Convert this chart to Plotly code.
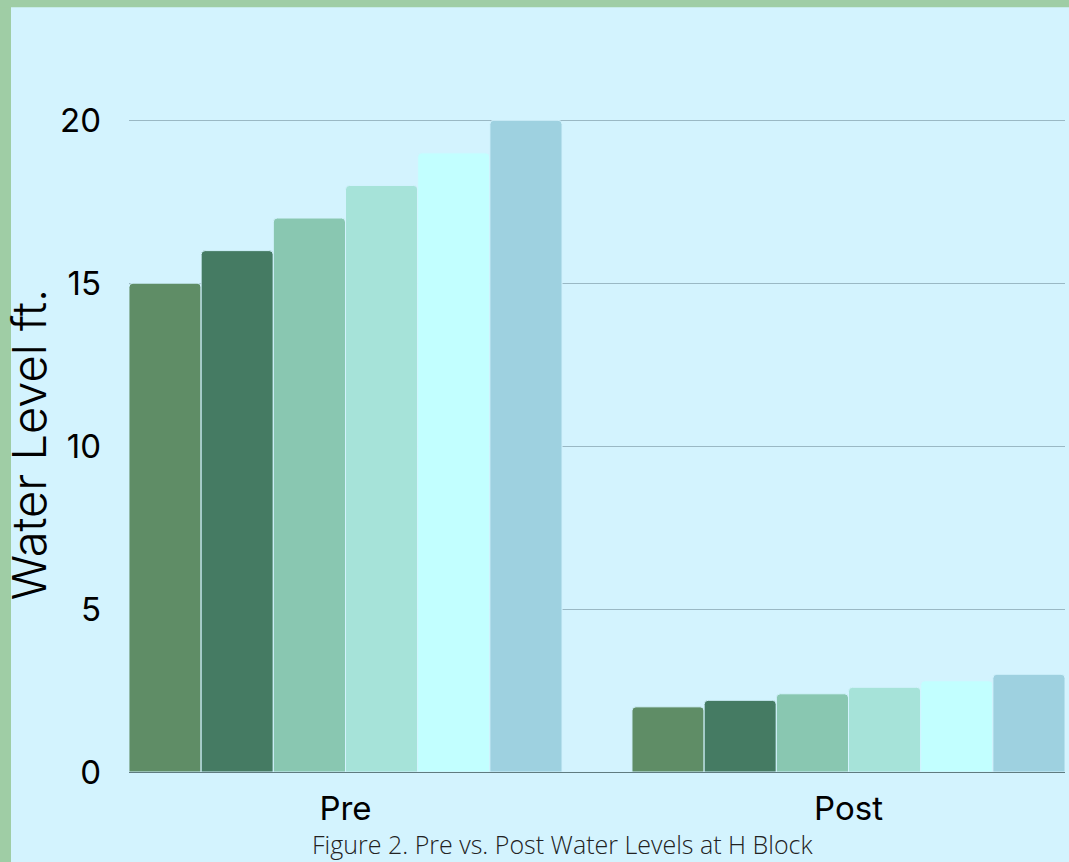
import plotly.graph_objects as go

categories = ["Pre", "Post"]
series_names = ["Site 1", "Site 2", "Site 3", "Site 4", "Site 5", "Site 6"]
series_values = [
    [15, 2.0],
    [16, 2.2],
    [17, 2.4],
    [18, 2.6],
    [19, 2.8],
    [20, 3.0],
]
colors = ["#5F8D66", "#457B63", "#89C7B1", "#A6E3D9", "#C2FFFF", "#9ED1E0"]
y_ticks = [0, 5, 10, 15, 20]

BG = "#D3F3FE"
GREEN = "#9FCDA5"

fig = go.Figure()
for name, vals, col in zip(series_names, series_values, colors):
    fig.add_trace(go.Bar(
        x=categories, y=vals, name=name,
        marker=dict(color=col, line=dict(color=BG, width=1)),
        hoverinfo="x+y",
    ))

YMAX = 20.1
W, H = 1069, 862
L, R, B = 129, 4, 90
ph = 652 * YMAX / 20
T = H - B - ph
pw = W - L - R

def px_x(p):
    return (p - L) / pw

def px_y(p):
    return (H - B - p) / ph

fig.update_layout(
    width=W, height=H,
    margin=dict(l=L, r=R, t=T, b=B, autoexpand=False),
    paper_bgcolor=BG, plot_bgcolor=BG,
    showlegend=False,
    barmode="group", bargap=0.139, bargroupgap=0,
    barcornerradius=4,
    font=dict(family="Inter", color="#000000"),
    xaxis=dict(
        range=[-0.4304, 1.4304], showgrid=False,
        showline=True, linecolor="#5F7B80", linewidth=1,
        tickfont=dict(size=33, family="Inter"),
        ticks="", ticklabelstandoff=7, zeroline=False,
    ),
    yaxis=dict(
        range=[0, YMAX], tickvals=y_ticks,
        showgrid=True, gridcolor="#9AB8C4", gridwidth=1,
        zeroline=False, showline=False, ticks="",
        tickfont=dict(size=33, family="Inter"),
        ticklabelstandoff=27,
        title=dict(text="Water Level ft.", font=dict(size=47, family="Inter", weight=300), standoff=19),
        automargin=False,
    ),
    shapes=[
        dict(type="rect", xref="paper", yref="paper", layer="below",
             x0=px_x(0), x1=px_x(11), y0=px_y(H + 2), y1=px_y(-2),
             fillcolor=GREEN, line=dict(width=0)),
        dict(type="rect", xref="paper", yref="paper", layer="below",
             x0=px_x(-2), x1=px_x(W + 2), y0=px_y(7), y1=px_y(-2),
             fillcolor=GREEN, line=dict(width=0)),
    ],
    annotations=[
        dict(text="Figure 2. Pre vs. Post Water Levels at H Block",
             xref="paper", yref="paper", x=px_x(562), y=px_y(862),
             xanchor="center", yanchor="bottom", showarrow=False,
             borderpad=0,
             font=dict(size=25, family="Open Sans", weight=300, color="#222222")),
    ],
)

fig.write_html("out.html")
